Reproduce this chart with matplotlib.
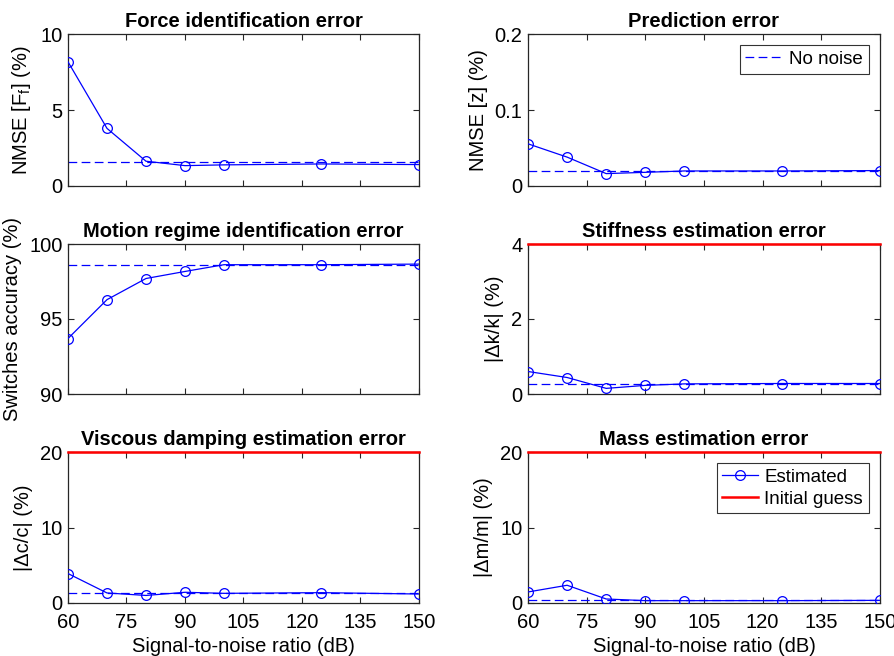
import matplotlib
matplotlib.use("Agg")
import matplotlib.pyplot as plt

plt.rcParams['font.family'] = ['Liberation Sans', 'DejaVu Sans']
plt.rcParams['mathtext.fontset'] = 'custom'
plt.rcParams['mathtext.rm'] = 'Liberation Sans'
plt.rcParams['mathtext.it'] = 'Liberation Sans'

snr = [60, 70, 80, 90, 100, 125, 150]
x_ticks = [60, 75, 90, 105, 120, 135, 150]

force_err = [8.17, 3.79, 1.63, 1.34, 1.39, 1.45, 1.41]
force_ref = 1.59
pred_err = [0.0555, 0.038, 0.0163, 0.018, 0.0198, 0.0198, 0.0203]
pred_ref = 0.020
switch_acc = [93.7, 96.29, 97.70, 98.17, 98.62, 98.62, 98.66]
switch_ref = 98.57
stiff_err = [0.60, 0.44, 0.15, 0.23, 0.27, 0.28, 0.28]
stiff_ref = 0.28
stiff_init = 4
damp_err = [3.9, 1.33, 1.0, 1.42, 1.28, 1.37, 1.19]
damp_ref = 1.33
damp_init = 20
mass_err = [1.46, 2.35, 0.53, 0.31, 0.31, 0.31, 0.35]
mass_ref = 0.35
mass_init = 20

panels = [
    dict(title='Force identification error', ylabel='NMSE [F$_\\mathregular{f}$] (%)',
         y=force_err, ref=force_ref, init=None, ylim=(0, 10), yticks=[0, 5, 10]),
    dict(title='Prediction error', ylabel='NMSE [z] (%)',
         y=pred_err, ref=pred_ref, init=None, ylim=(0, 0.2), yticks=[0, 0.1, 0.2]),
    dict(title='Motion regime identification error', ylabel='Switches accuracy (%)',
         y=switch_acc, ref=switch_ref, init=None, ylim=(90, 100), yticks=[90, 95, 100]),
    dict(title='Stiffness estimation error', ylabel='|Δk/k| (%)',
         y=stiff_err, ref=stiff_ref, init=stiff_init, ylim=(0, 4), yticks=[0, 2, 4]),
    dict(title='Viscous damping estimation error', ylabel='|Δc/c| (%)',
         y=damp_err, ref=damp_ref, init=damp_init, ylim=(0, 20), yticks=[0, 10, 20]),
    dict(title='Mass estimation error', ylabel='|Δm/m| (%)',
         y=mass_err, ref=mass_ref, init=mass_init, ylim=(0, 20), yticks=[0, 10, 20]),
]

W, H = 895, 656
fig = plt.figure(figsize=(W / 100, H / 100), dpi=100)

cols = [(68, 419), (528, 880)]
rows = [(34, 186), (244, 394), (452, 603)]

fs = 14.5
leg_fs = 13.5
edge = '#262626'
for i, p in enumerate(panels):
    r, c = divmod(i, 2)
    x0, x1 = cols[c]
    y0, y1 = rows[r]
    ax = fig.add_axes([x0 / W, 1 - y1 / H, (x1 - x0) / W, (y1 - y0) / H])
    est, = ax.plot(snr, p['y'], '-o', color='blue', lw=0.9, ms=7,
                   mfc='none', mew=0.9, label='Estimated', zorder=3)
    nn, = ax.plot([snr[0], snr[-1]], [p['ref'], p['ref']], '--', color='blue',
                  lw=0.9, dashes=(7, 3.5), label='No noise', zorder=2)
    if p['init'] is not None:
        ig, = ax.plot([snr[0], snr[-1]], [p['init'], p['init']], '-', color='red',
                      lw=1.8, clip_on=False, label='Initial guess', zorder=5)
    ax.set_xlim(60, 150)
    ax.set_ylim(*p['ylim'])
    ax.set_xticks(x_ticks)
    ax.set_yticks(p['yticks'])
    ax.set_yticklabels([f'{v:g}' for v in p['yticks']])
    ax.tick_params(direction='in', top=True, right=True, labelsize=fs,
                   length=4.5, width=0.8, colors=edge, labelcolor='black')
    ax.tick_params(axis='y', pad=4)
    ax.tick_params(axis='x', pad=7)
    if r < 2:
        ax.set_xticklabels([])
    else:
        ax.set_xlabel('Signal-to-noise ratio (dB)', fontsize=fs, labelpad=4)
    for s in ax.spines.values():
        s.set_color(edge)
        s.set_linewidth(0.9)
    ax.set_title(p['title'], fontsize=fs, fontweight='bold', pad=5)
    ax.set_ylabel(p['ylabel'], fontsize=fs, labelpad=5)
    if i == 1:
        leg = ax.legend(handles=[nn], loc='upper right', fontsize=leg_fs,
                        frameon=True, fancybox=False, edgecolor='black',
                        borderaxespad=0.6, handlelength=1.9, borderpad=0.3,
                        handletextpad=0.45)
        leg.get_frame().set_linewidth(0.8)
    if i == 5:
        leg = ax.legend(handles=[est, ig], loc='upper right', fontsize=leg_fs,
                        frameon=True, fancybox=False, edgecolor='black',
                        borderaxespad=0.6, handlelength=1.9, borderpad=0.3,
                        labelspacing=0.25, handletextpad=0.35)
        leg.get_frame().set_linewidth(0.8)

fig.savefig('out.png', dpi=100)
